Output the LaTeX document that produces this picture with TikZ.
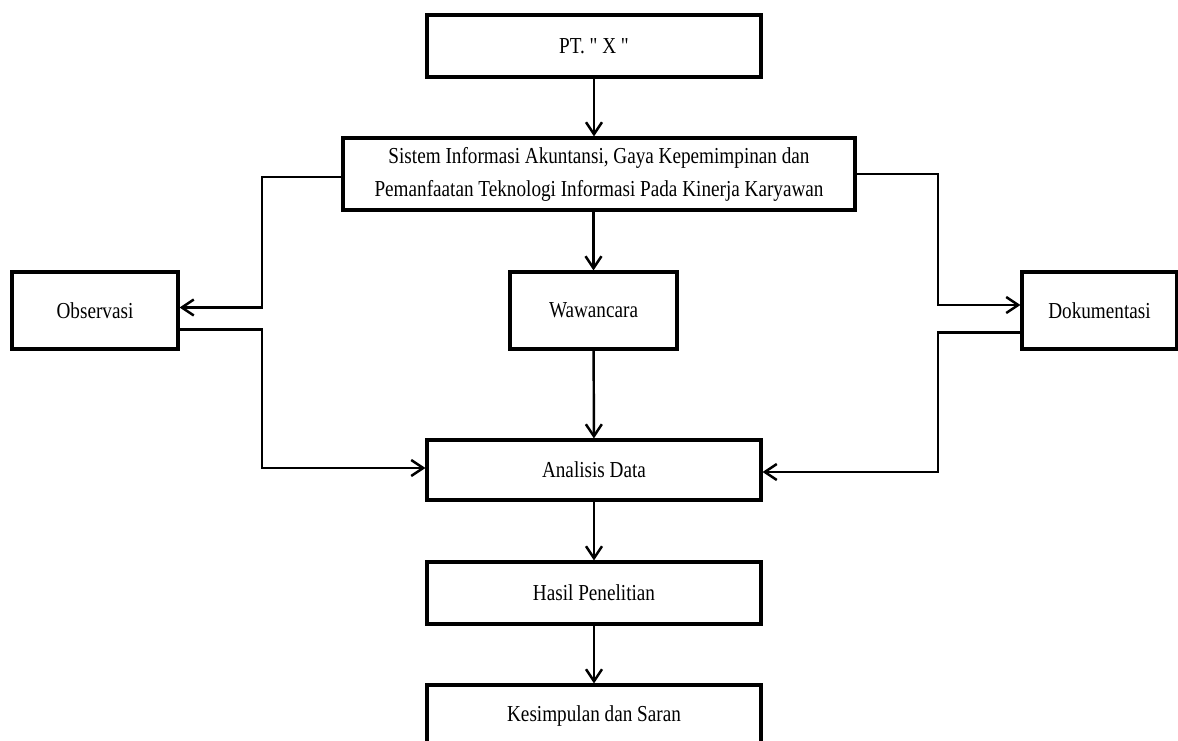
\documentclass[tikz,border=0pt]{standalone}
\usepackage{fontspec}
\setmainfont{Liberation Serif}[FakeStretch=0.84, Ligatures=TeXOff]
\usepackage{tikz}
\usetikzlibrary{arrows, arrows.meta}

\begin{document}
\begin{tikzpicture}[
		box/.style={rectangle, draw=black, line width=1.8pt, align=center, inner sep=0pt, font=\fontsize{13}{18.7}\selectfont},
		arr/.style={-{Straight Barb[length=2.4mm, width=3.2mm, line width=1.4pt]}, line width=1.4pt}
	]
			\useasboundingbox (0,0) rectangle (23.56,14.8);
			\node[box, minimum width=6.68cm, minimum height=1.24cm] (pt) at (11.88,13.88){PT. " X "};%
			\node[box, minimum width=10.24cm, minimum height=1.44cm] (sistem) at (11.98,11.32){Sistem Informasi Akuntansi, Gaya Kepemimpinan dan\\Pemanfaatan Teknologi Informasi Pada Kinerja Karyawan};%
			\node[box, minimum width=3.32cm, minimum height=1.54cm] (obs) at (1.9,8.59){Observasi};%
			\node[box, minimum width=3.34cm, minimum height=1.54cm] (waw) at (11.87,8.59){Wawancara};%
			\node[box, minimum width=3.10cm, minimum height=1.54cm] (dok) at (21.99,8.59){Dokumentasi};%
			\node[box, minimum width=6.68cm, minimum height=1.2cm] (ana) at (11.88,5.4){Analisis Data};%
			\node[box, minimum width=6.68cm, minimum height=1.24cm] (hasil) at (11.88,2.94){Hasil Penelitian};%
			\node[box, minimum width=6.68cm, minimum height=1.24cm] (kes) at (11.88,0.48){Kesimpulan dan Saran};%
			\coordinate (lup) at (5.24,8.65);
			\coordinate (ldown) at (5.24,5.44);
			\coordinate (rup) at (18.76,8.7);
			\coordinate (rdown) at (18.76,5.36);
			\draw[arr] (pt) -- (pt.south |- sistem.north);
			\draw[arr] (waw.north |- sistem.south) -- (waw);
			\draw[arr] (waw) -- (ana);
			\draw[arr] (ana) -- (hasil);
			\draw[arr] (hasil) -- (kes);
			\draw[arr] ([yshift=-0.06cm]sistem.west) -| (lup) -- (obs.east |- lup);
			\draw[arr] ([yshift=-0.38cm]obs.east) -| (ldown) -- (ana.west |- ldown);
			\draw[arr] (sistem.east) -| (rup) -- (dok.west |- rup);
			\draw[arr] ([yshift=-0.44cm]dok.west) -| (rdown) -- (ana.east |- rdown);
		\end{tikzpicture}
\end{document}
